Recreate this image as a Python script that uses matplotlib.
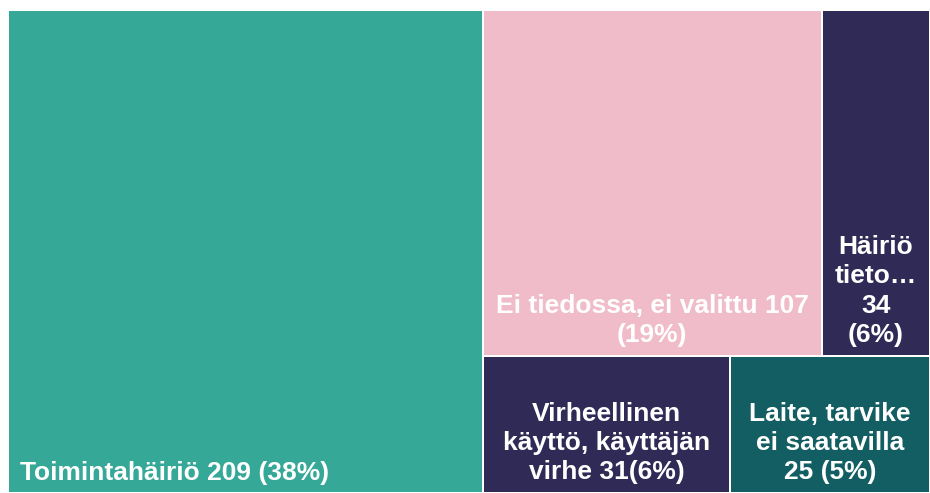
import matplotlib
matplotlib.use("Agg")
import matplotlib.pyplot as plt
from matplotlib.patches import Rectangle

# treemap data
labels = [
    "Toimintahäiriö 209 (38%)",
    "Ei tiedossa, ei valittu 107\n(19%)",
    "Häiriö\ntieto…\n34\n(6%)",
    "Virheellinen\nkäyttö, käyttäjän\nvirhe 31(6%)",
    "Laite, tarvike\nei saatavilla\n25 (5%)",
]
values = [209, 107, 34, 31, 25]
colors = ["#36A897", "#F0BCC9", "#2F2B56", "#2F2B56", "#125E63"]

W, H = 930, 493
X0, Y0 = 8, 10           # treemap origin in pixels (top-left)
TW, TH = W - X0, H - Y0  # treemap size


def layout(vals):
    """first value: full-height column; the rest: two rows of two"""
    total = sum(vals)
    w0 = TW * vals[0] / total
    rects = [(X0, Y0, w0, TH)]
    rx, rw = X0 + w0, TW - w0
    top, bottom = vals[1:3], vals[3:5]
    h_top = TH * sum(top) / sum(vals[1:])
    x = rx
    for v in top:
        w = rw * v / sum(top)
        rects.append((x, Y0, w, h_top))
        x += w
    x = rx
    for v in bottom:
        w = rw * v / sum(bottom)
        rects.append((x, Y0 + h_top, w, TH - h_top))
        x += w
    return rects


fig = plt.figure(figsize=(W / 100, H / 100), dpi=100, facecolor="white")
ax = fig.add_axes([0, 0, 1, 1])
ax.set_xlim(0, W)
ax.set_ylim(H, 0)
ax.axis("off")

gap = 1.0
for i, (x, y, w, h) in enumerate(layout(values)):
    ax.add_patch(Rectangle((x + gap, y + gap), w - 2 * gap, h - 2 * gap,
                           facecolor=colors[i], edgecolor="none"))
    if i == 0:
        ax.text(x + 12, y + h - 13, labels[i], ha="left", va="baseline",
                color="white", fontsize=19, fontweight="bold",
                family="Liberation Sans")
    else:
        ax.text(x + w / 2, y + h - 14, labels[i], ha="center", va="baseline",
                multialignment="center", linespacing=1.27,
                color="white", fontsize=19, fontweight="bold",
                family="Liberation Sans")

fig.savefig("out.png", dpi=100, facecolor="white")
